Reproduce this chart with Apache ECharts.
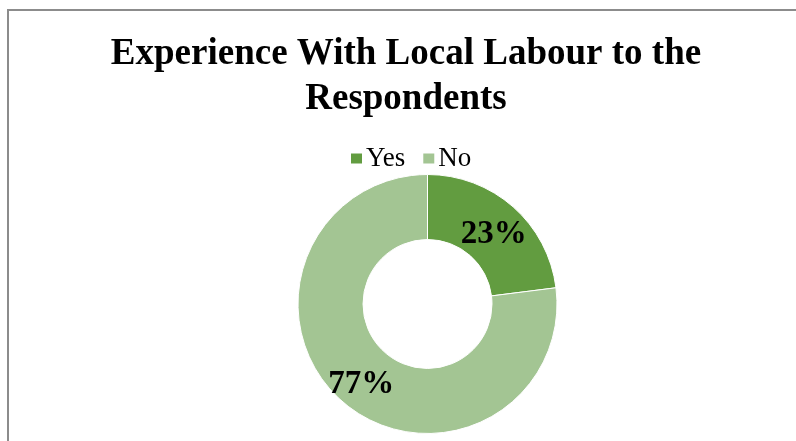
<!DOCTYPE html>
<html>
<head>
<meta charset="utf-8">
<script src="https://cdn.jsdelivr.net/npm/echarts@6/dist/echarts.min.js"></script>
<style>
html,body{margin:0;padding:0;background:#fff;}
#chart{width:796px;height:441px;}
</style>
</head>
<body>
<div id="chart"></div>
<script>
const categories = ['Yes', 'No'];
const values = [23, 77];
const colors = ['#629C40', '#A3C593'];
const titleText = 'Experience With Local Labour to the\nRespondents';

const chart = echarts.init(document.getElementById('chart'), null, {renderer: 'canvas'});
const FONT = '"Liberation Serif", "Times New Roman", serif';
chart.setOption({
  backgroundColor: '#ffffff',
  animation: false,
  graphic: [{
    type: 'rect',
    shape: {x: 8, y: 10, width: 820, height: 460},
    style: {fill: 'none', stroke: '#8c8c8c', lineWidth: 2},
    silent: true
  }],
  title: {
    text: titleText,
    left: 406,
    top: 32,
    textAlign: 'center',
    padding: 0,
    textStyle: {
      fontFamily: FONT,
      fontWeight: 'bold',
      fontSize: 37,
      lineHeight: 45,
      color: '#000'
    }
  },
  legend: {
    data: categories,
    left: 349,
    top: 145,
    padding: 0,
    itemWidth: 13,
    itemHeight: 12,
    itemGap: 16,
    icon: 'rect',
    textStyle: {fontFamily: FONT, fontSize: 27, color: '#000', padding: [0, 0, 0, -2]}
  },
  series: [{
    type: 'pie',
    center: [427.5, 304],
    radius: [64.5, 129.5],
    startAngle: 90,
    clockwise: true,
    avoidLabelOverlap: false,
    itemStyle: {borderColor: '#fff', borderWidth: 1},
    label: {
      show: true,
      position: 'inside',
      formatter: '{c}%',
      fontFamily: FONT,
      fontWeight: 'bold',
      fontSize: 33,
      color: '#000'
    },
    labelLayout: {dy: 5},
    labelLine: {show: false},
    emphasis: {disabled: true},
    data: categories.map((c, i) => ({name: c, value: values[i], itemStyle: {color: colors[i]}}))
  }]
});
</script>
</body>
</html>
